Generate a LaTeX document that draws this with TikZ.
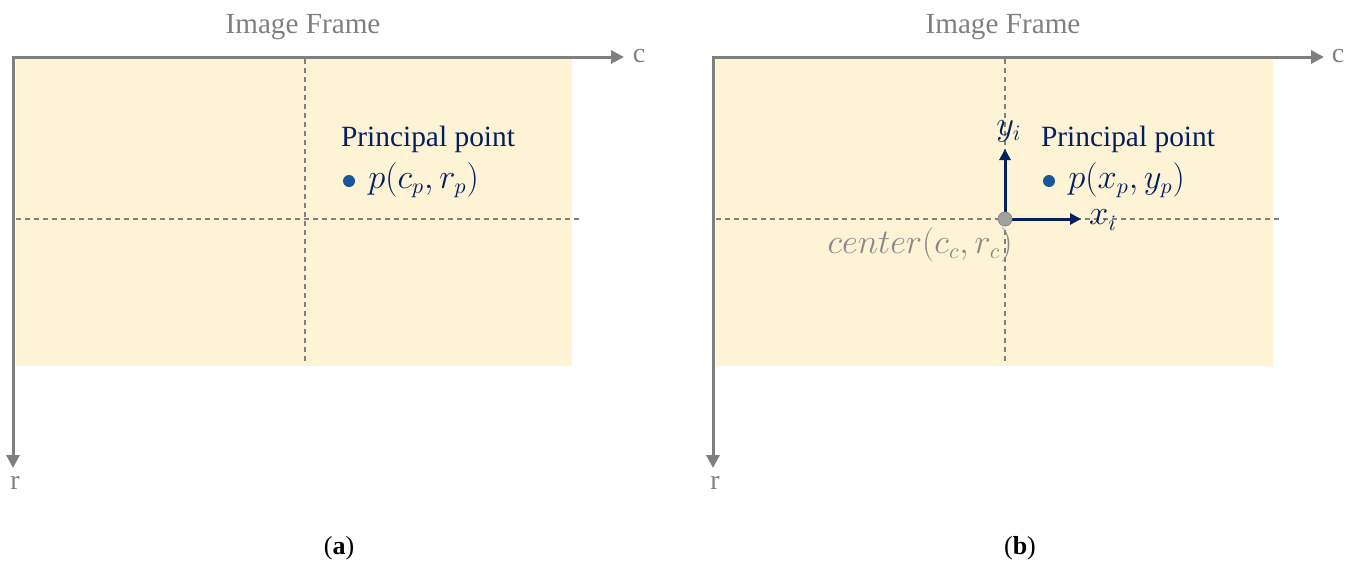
\documentclass[tikz,border=0pt]{standalone}
\usepackage{fontspec}
\setmainfont{Liberation Serif}
\usetikzlibrary{arrows.meta}
\definecolor{axgray}{HTML}{7F7F7F}
\definecolor{txgray}{HTML}{808080}
\definecolor{paper}{HTML}{FFF3D6}
\definecolor{navy}{HTML}{002060}
\definecolor{dotblue}{HTML}{1A559B}
\definecolor{cgray}{HTML}{8A8A8A}
\tikzset{
  axis/.style={draw=axgray, line width=1.5pt, -{Triangle[length=6.5pt,width=6.5pt]}},
  guide/.style={draw=txgray, line width=0.7pt, dash pattern=on 2.5pt off 2pt},
  title/.style={text=txgray, font=\fontsize{14.6}{17}\selectfont, inner sep=0pt},
  axlabel/.style={text=txgray, font=\fontsize{14}{17}\selectfont, inner sep=0pt},
  navytext/.style={text=navy, font=\fontsize{14.7}{17}\selectfont, inner sep=0pt},
  mathtext/.style={font=\fontsize{16}{19}\selectfont, inner sep=0pt},
  ppdot/.style={circle, fill=dotblue, minimum size=6pt, inner sep=0pt},
  subcap/.style={text=black, font=\fontsize{13}{15}\selectfont, inner sep=0pt},
  iaxis/.style={draw=navy, line width=1.5pt, -{Triangle[length=5.5pt,width=5.5pt]}},
}
\begin{document}
\begin{tikzpicture}[x=0.5pt, y=-0.5pt]
\useasboundingbox (0,0) rectangle (1348,563);
% ---------------- panel (a)
\begin{scope}
  \fill[paper] (16,59) rectangle (572,366);
  \coordinate (aO) at (13,57);
  \coordinate (aC) at (624,57);
  \coordinate (aR) at (13,468);
  \coordinate (aVt) at (305,59);
  \coordinate (aVb) at (305,362);
  \coordinate (aHl) at (16,219);
  \coordinate (aHr) at (579,219);
  \draw[guide] (aVt) -- (aVb);
  \draw[guide] (aHl) -- (aHr);
  \draw[axis] ([xshift=-0.75pt]aO) -- (aC);
  \draw[axis] (aO) -- (aR);
  \node[axlabel] (ac) at (639,56) {c};
  \node[axlabel] (ar) at (15,483) {r};
  \node[title] (atitle) at (303,27) {Image Frame};
  \node[navytext] (apt) at (428,139) {Principal point};
  \node[ppdot] (adot) at (349,181) {};
  \node[mathtext, text=navy, anchor=west] (apl) at (368,180) {$p(c_p,r_p)$};
  \node[subcap] (acap) at (339,548) {(\textbf{a})};
\end{scope}
% ---------------- panel (b)
\begin{scope}[xshift=350pt]
  \fill[paper] (16,59) rectangle (573,366);
  \coordinate (bO) at (13,57);
  \coordinate (bC) at (624,57);
  \coordinate (bR) at (13,468);
  \coordinate (bVt) at (305,59);
  \coordinate (bVb) at (305,362);
  \coordinate (bHl) at (16,219);
  \coordinate (bHr) at (580,219);
  \draw[guide] (bVt) -- (bVb);
  \draw[guide] (bHl) -- (bHr);
  \draw[axis] ([xshift=-0.75pt]bO) -- (bC);
  \draw[axis] (bO) -- (bR);
  \node[axlabel] (bc) at (638,56) {c};
  \node[axlabel] (br) at (15,483) {r};
  \node[title] (btitle) at (303,27) {Image Frame};
  \node[mathtext, text=cgray, anchor=east] (bclab) at (313,245) {$center(c_c,r_c)$};
  \coordinate (bYi) at (305,149);
  \coordinate (bXi) at (381,219);
  \draw[iaxis] (305,219) -- (bYi);
  \draw[iaxis] (305,219) -- (bXi);
  \node[circle, fill=cgray!80, draw=cgray, line width=0.4pt, minimum size=7pt, inner sep=0pt] (bcen) at (305,219) {};
  \node[mathtext, text=navy] (byl) at (309,131) {$y_i$};
  \node[mathtext, text=navy] (bxl) at (403,220) {$x_i$};
  \node[navytext] (bpt) at (428,139) {Principal point};
  \node[ppdot] (bdot) at (349,181) {};
  \node[mathtext, text=navy, anchor=west] (bpl) at (368,180) {$p(x_p,y_p)$};
  \node[subcap] (bcap) at (320,548) {(\textbf{b})};
\end{scope}
\end{tikzpicture}
\end{document}
